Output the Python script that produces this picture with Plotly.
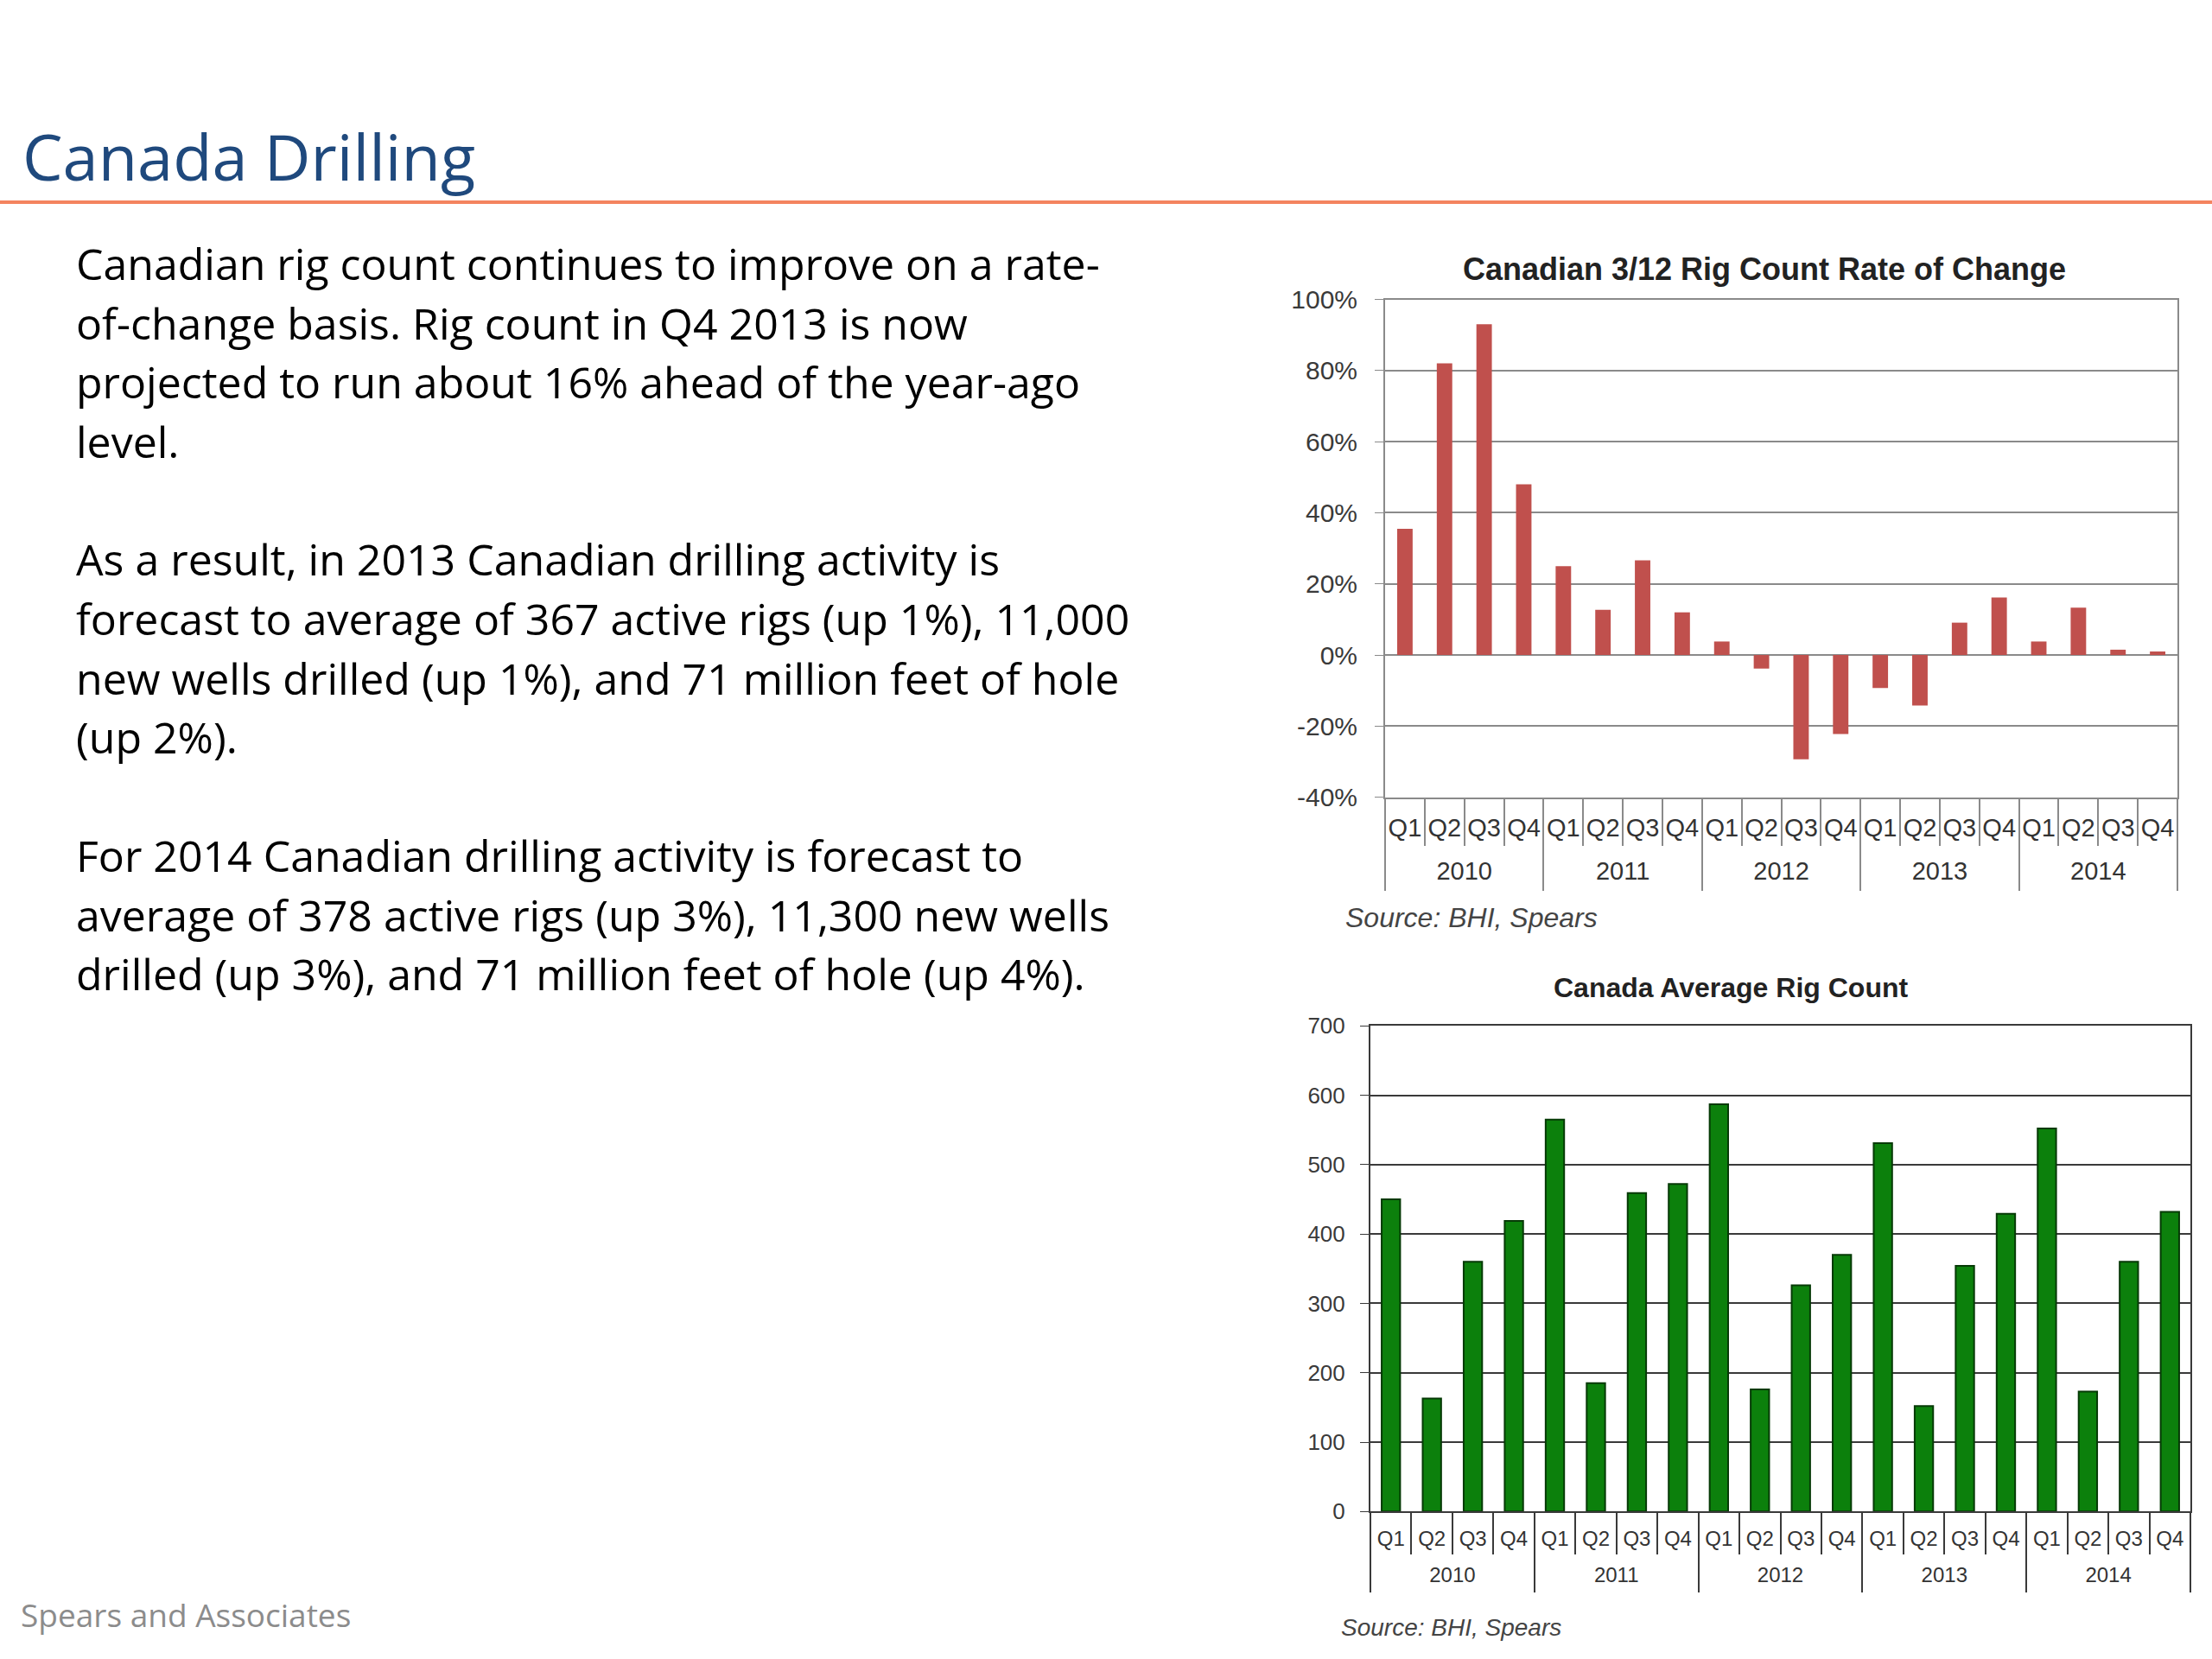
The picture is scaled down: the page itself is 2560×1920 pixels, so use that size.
import plotly.graph_objects as go

# ---------------- data ----------------
years = ["2010", "2011", "2012", "2013", "2014"]
quarters = ["Q1", "Q2", "Q3", "Q4"]

# Canadian 3/12 rig count rate of change (%), Q1 2010 .. Q4 2014
rate_of_change = [35.5, 82.0, 93.0, 48.0, 25.0, 12.7, 26.6, 12.0, 3.8, -3.8,
                  -29.3, -22.2, -9.3, -14.2, 9.1, 16.2, 3.8, 13.3, 1.5, 1.0]

# Canada average rig count, Q1 2010 .. Q4 2014
rig_count = [450, 163, 360, 419, 565, 185, 459, 472, 587, 176,
             326, 370, 531, 152, 354, 429, 552, 173, 360, 432]

pct_tick_vals = [-40, -20, 0, 20, 40, 60, 80, 100]
pct_tick_text = ["-40%", "-20%", "0%", "20%", "40%", "60%", "80%", "100%"]
rig_tick_vals = [0, 100, 200, 300, 400, 500, 600, 700]

page_title = "Canada Drilling"
chart1_title = "Canadian 3/12 Rig Count Rate of Change"
chart2_title = "Canada Average Rig Count"
source_text = "Source: BHI, Spears"
footer_text = "Spears and Associates"

body_paragraphs = [
    ["Canadian rig count continues to improve on a rate-",
     "of-change basis. Rig count in Q4 2013 is now",
     "projected to run about 16% ahead of the year-ago",
     "level."],
    ["As a result, in 2013 Canadian drilling activity is",
     "forecast to average of 367 active rigs (up 1%), 11,000",
     "new wells drilled (up 1%), and 71 million feet of hole",
     "(up 2%)."],
    ["For 2014 Canadian drilling activity is forecast to",
     "average of 378 active rigs (up 3%), 11,300 new wells",
     "drilled (up 3%), and 71 million feet of hole (up 4%)."],
]

# ---------------- helpers ----------------
W, H = 2560, 1920


def px(x):
    return x / W


def py(y):
    return 1 - y / H


# one category per quarter, labelled with the quarter name
categories = [y + " " + q for y in years for q in quarters]
quarter_labels = [q for y in years for q in quarters]
nq = len(quarters)
# year label positions (group centres) and group boundaries in category units
year_centres = [i * nq + (nq - 1) / 2 for i in range(len(years))]
year_bounds = [i * nq - 0.5 for i in range(len(years) + 1)]
cat_range = [-0.5, len(categories) - 0.5]

CHART_FONT = "Liberation Sans, Arial, sans-serif"
TEXT_FONT = "Open Sans, Noto Sans, sans-serif"

top_grey = "#8a8a8a"
bot_dark = "#3a3a3a"
label_col = "#333333"

fig = go.Figure()
fig.add_trace(go.Bar(
    x=categories, y=rate_of_change, xaxis="x", yaxis="y",
    marker=dict(color="#C0504D", line=dict(width=0)),
    width=0.39, showlegend=False, hoverinfo="y"))
fig.add_trace(go.Bar(
    x=categories, y=rig_count, xaxis="x2", yaxis="y2",
    marker=dict(color="#0C800C", line=dict(color="#063A06", width=2)),
    width=0.45, showlegend=False, hoverinfo="y"))
# empty traces that register the year-label axes
fig.add_trace(go.Scatter(x=[], y=[], xaxis="x3", yaxis="y",
                         showlegend=False, hoverinfo="skip"))
fig.add_trace(go.Scatter(x=[], y=[], xaxis="x4", yaxis="y2",
                         showlegend=False, hoverinfo="skip"))

top_dom_x = [px(1603), px(2520)]
top_dom_y = [py(922.7), py(346.5)]
bot_dom_x = [px(1586), px(2535)]
bot_dom_y = [py(1749.3), py(1187.3)]


def quarter_axis(domain, anchor, colour, size, ticklen, standoff):
    return dict(
        domain=domain, anchor=anchor, type="category",
        categoryorder="array", categoryarray=categories, range=cat_range,
        tickmode="array", tickvals=categories, ticktext=quarter_labels,
        tickangle=0,
        showline=True, linecolor=colour, linewidth=2, mirror=True,
        ticks="outside", tickson="boundaries", ticklen=ticklen,
        tickcolor=colour, tickwidth=1.5,
        tickfont=dict(family=CHART_FONT, size=size, color=label_col),
        ticklabelstandoff=standoff, showgrid=False, automargin=False,
        fixedrange=True)


def year_axis(overlay, position, colour, size, divlen, standoff):
    return dict(
        overlaying=overlay, anchor="free", position=position,
        type="linear", range=cat_range,
        tickmode="array", tickvals=year_centres, ticktext=years,
        tickangle=0, ticks="",
        showline=False, showgrid=False, zeroline=False,
        tickfont=dict(family=CHART_FONT, size=size, color=label_col),
        ticklabelstandoff=standoff, automargin=False, fixedrange=True,
        minor=dict(tickmode="array", tickvals=year_bounds, ticks="outside",
                   ticklen=divlen, tickcolor=colour, tickwidth=1.5,
                   showgrid=False))


fig.update_layout(
    width=W, height=H,
    margin=dict(l=0, r=0, t=0, b=0, autoexpand=False),
    paper_bgcolor="white", plot_bgcolor="white",
    xaxis=quarter_axis(top_dom_x, "y", top_grey, 29, 54, 8),
    xaxis3=year_axis("x", top_dom_y[0], top_grey, 29, 107, 65),
    yaxis=dict(
        domain=top_dom_y, anchor="x", range=[-40, 100],
        tickmode="array", tickvals=pct_tick_vals, ticktext=pct_tick_text,
        showgrid=True, gridcolor=top_grey, gridwidth=1.5, zeroline=False,
        showline=True, linecolor=top_grey, linewidth=2, mirror=True,
        ticks="outside", ticklen=10, tickcolor=top_grey,
        tickfont=dict(family=CHART_FONT, size=30, color="#3a3a3a"),
        ticklabelstandoff=14, automargin=False, fixedrange=True),
    xaxis2=quarter_axis(bot_dom_x, "y2", bot_dark, 24, 48, 9),
    xaxis4=year_axis("x2", bot_dom_y[0], bot_dark, 24, 93, 57),
    yaxis2=dict(
        domain=bot_dom_y, anchor="x2", range=[0, 700],
        tickmode="array", tickvals=rig_tick_vals,
        showgrid=True, gridcolor=bot_dark, gridwidth=1.6, zeroline=False,
        showline=True, linecolor=bot_dark, linewidth=2, mirror=True,
        ticks="outside", ticklen=10, tickcolor=bot_dark,
        tickfont=dict(family=CHART_FONT, size=26, color="#3a3a3a"),
        ticklabelstandoff=12, automargin=False, fixedrange=True),
)

annotations = []


def add_text(text, x, y, size, color, family, xanchor="left", bold=False,
             italic=False):
    if bold:
        text = "<b>" + text + "</b>"
    if italic:
        text = "<i>" + text + "</i>"
    annotations.append(dict(
        text=text, x=px(x), y=py(y), xref="paper", yref="paper",
        xanchor=xanchor, yanchor="middle", showarrow=False,
        font=dict(family=family, size=size, color=color)))


# page title and footer
add_text(page_title, 24, 181, 74, "#1F497D", TEXT_FONT)
add_text(footer_text, 22, 1868, 37, "#8C8C8C", TEXT_FONT)

# body text
line_y = 305
for para in body_paragraphs:
    for line in para:
        add_text(line, 86, line_y, 50, "#000000", TEXT_FONT)
        line_y += 68.5
    line_y += 68.5

# chart titles and sources
add_text(chart1_title, 2042, 311, 36, "#222222", CHART_FONT,
         xanchor="center", bold=True)
add_text(source_text, 1555, 1062, 32, "#444444", CHART_FONT, italic=True)
add_text(chart2_title, 2003, 1143, 32, "#222222", CHART_FONT,
         xanchor="center", bold=True)
add_text(source_text, 1550, 1883, 28, "#444444", CHART_FONT, italic=True)

fig.update_layout(annotations=annotations)

# orange rule under the page title
fig.add_shape(type="line", xref="paper", yref="paper",
              x0=0, x1=1, y0=py(234), y1=py(234),
              line=dict(color="#F4845F", width=4))

fig.write_html("out.html",
               config={"displayModeBar": False},
               post_script="document.body.style.margin='0px';"
                           "document.body.style.overflow='hidden';")
